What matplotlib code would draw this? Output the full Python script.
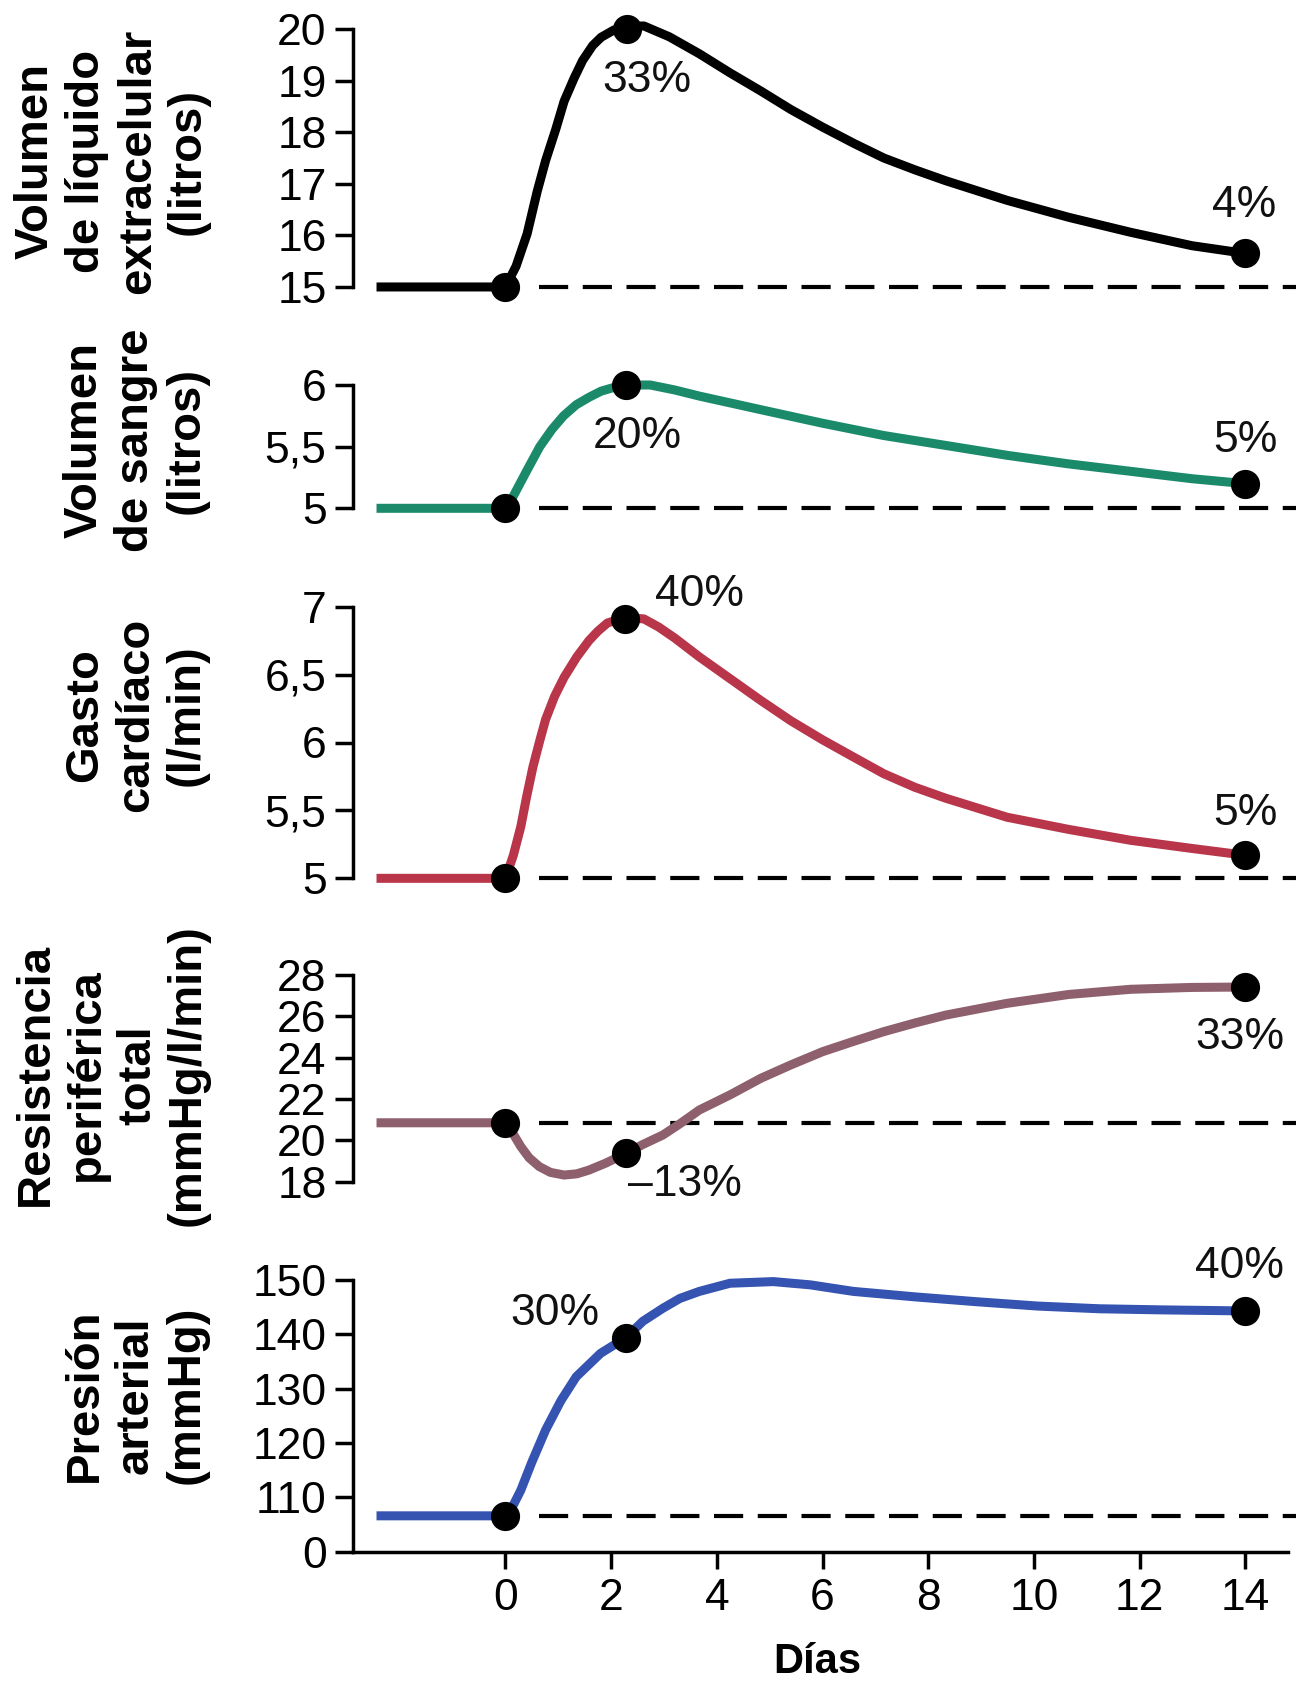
import matplotlib.pyplot as plt

plt.rcParams['font.family'] = ['Liberation Sans', 'DejaVu Sans']

# --- data (days, value) ---
ecf_days = [-2.44, 0, 0.2, 0.41, 0.6, 0.76, 0.95, 1.11, 1.3, 1.46, 1.65, 1.81, 2.05, 2.3, 2.62,
            3.1, 3.67, 4.25, 4.83, 5.4, 6.0, 6.6, 7.16, 7.75, 8.33, 9.49, 10.66, 11.83, 12.99, 14.0]
ecf_vals = [15, 15, 15.4, 16.03, 16.85, 17.45, 18.05, 18.6, 19.05, 19.39, 19.68, 19.84, 19.98, 20.05, 20.06,
            19.85, 19.52, 19.15, 18.8, 18.44, 18.1, 17.78, 17.5, 17.27, 17.06, 16.68, 16.35, 16.06, 15.8, 15.65]

blood_days = [-2.44, 0, 0.15, 0.41, 0.65, 0.88, 1.1, 1.34, 1.58, 1.81, 2.05, 2.28, 2.74,
              3.2, 3.67, 4.83, 6.0, 7.16, 8.33, 9.49, 10.66, 11.83, 12.99, 14.0]
blood_vals = [5, 5, 5.1, 5.31, 5.5, 5.64, 5.75, 5.84, 5.9, 5.95, 5.98, 6.0, 6.0,
              5.96, 5.91, 5.8, 5.69, 5.59, 5.51, 5.43, 5.36, 5.30, 5.24, 5.2]

co_days = [-2.44, 0, 0.15, 0.29, 0.4, 0.52, 0.64, 0.76, 0.93, 1.11, 1.35, 1.58, 1.75, 1.93, 2.26, 2.62,
           2.9, 3.2, 3.67, 4.25, 4.83, 5.4, 6.0, 6.6, 7.16, 7.75, 8.33, 9.49, 10.66, 11.83, 12.99, 14.0]
co_vals = [5, 5, 5.17, 5.38, 5.6, 5.82, 6.0, 6.17, 6.34, 6.48, 6.63, 6.75, 6.82, 6.88, 6.92, 6.91,
           6.85, 6.77, 6.63, 6.47, 6.31, 6.16, 6.02, 5.89, 5.77, 5.67, 5.59, 5.45, 5.36, 5.28, 5.22, 5.17]

tpr_days = [-2.44, 0, 0.15, 0.29, 0.45, 0.64, 0.85, 1.11, 1.35, 1.58, 1.9, 2.28, 2.6, 2.98, 3.3, 3.67,
            4.25, 4.83, 5.4, 6.0, 6.6, 7.16, 7.75, 8.33, 9.49, 10.66, 11.83, 12.99, 14.0]
tpr_vals = [20.85, 20.85, 20.3, 19.7, 19.15, 18.73, 18.45, 18.32, 18.38, 18.56, 18.9, 19.37, 19.8, 20.26, 20.8, 21.47,
            22.2, 23.0, 23.65, 24.29, 24.8, 25.26, 25.68, 26.06, 26.63, 27.06, 27.31, 27.4, 27.42]

bp_days = [-2.44, 0, 0.15, 0.29, 0.5, 0.76, 1.05, 1.34, 1.8, 2.28, 2.6, 2.98, 3.3, 3.67, 4.25,
           5.07, 5.77, 6.58, 7.74, 8.91, 10.07, 11.24, 12.4, 14.0]
bp_vals = [106.6, 106.6, 108.6, 111.3, 116.5, 122.4, 127.8, 132.2, 136.5, 139.4, 142.4, 144.8, 146.6, 147.9, 149.4,
           149.7, 149.1, 147.9, 146.9, 146.0, 145.2, 144.7, 144.5, 144.3]

# marked points and their percent labels
ecf_marks = [(0, 15), (2.3, 20.0), (14, 15.65)]
blood_marks = [(0, 5), (2.28, 6.0), (14, 5.2)]
co_marks = [(0, 5), (2.26, 6.91), (14, 5.17)]
tpr_marks = [(0, 20.85), (2.28, 19.37), (14, 27.42)]
bp_marks = [(0, 106.6), (2.28, 139.4), (14, 144.3)]

ecf_notes = [('33%', 2.68, 19.0), ('4%', 13.97, 16.58)]
blood_notes = [('20%', 2.5, 5.58), ('5%', 14.0, 5.55)]
co_notes = [('40%', 3.67, 7.09), ('5%', 14.0, 5.48)]
tpr_notes = [('–13%', 3.4, 17.84), ('33%', 13.9, 25.0)]
bp_notes = [('30%', 0.94, 143.9), ('40%', 13.9, 152.5)]

ecf_ticks = [15, 16, 17, 18, 19, 20]
blood_ticks = [5, 5.5, 6]
co_ticks = [5, 5.5, 6, 6.5, 7]
tpr_ticks = [18, 20, 22, 24, 26, 28]
bp_ticks = [100, 110, 120, 130, 140, 150]
bp_ticklabels = ['0', '110', '120', '130', '140', '150']
day_ticks = [0, 2, 4, 6, 8, 10, 12, 14]

ylabels = [['Volumen', 'de líquido', 'extracelular', '(litros)'],
           ['Volumen', 'de sangre', '(litros)'],
           ['Gasto', 'cardíaco', '(l/min)'],
           ['Resistencia', 'periférica', 'total', '(mmHg/l/min)'],
           ['Presión', 'arterial', '(mmHg)']]

colors = ['#000000', '#1b8a6b', '#b8354a', '#8e5f6c', '#3553b0']

W, H = 1296, 1686
fig = plt.figure(figsize=(W / 100, H / 100), dpi=100)

# panel boxes in pixels (top, bottom), y limits, label vertical centre
panels = [
    (ecf_days, ecf_vals, ecf_marks, ecf_notes, ecf_ticks, None, (14.6, 20.4), 8.4, 307.6, 161),
    (blood_days, blood_vals, blood_marks, blood_notes, blood_ticks, None, (4.85, 6.15), 366.5, 526.8, 440),
    (co_days, co_vals, co_marks, co_notes, co_ticks, None, (4.85, 7.15), 586.3, 898.7, 715),
    (tpr_days, tpr_vals, tpr_marks, tpr_notes, tpr_ticks, None, (17.2, 28.8), 958.5, 1198.2, 1075),
    (bp_days, bp_vals, bp_marks, bp_notes, bp_ticks, bp_ticklabels, (100, 152), 1269.1, 1551.7, 1395),
]

left_px = 353
xlim = (-2.885, 14.96)

for i, (dx, vy, marks, notes, yt, ytl, ylim, top, bot, laby) in enumerate(panels):
    ax = fig.add_axes([left_px / W, 1 - bot / H, (W - left_px) / W, (bot - top) / H])
    ax.set_xlim(*xlim)
    ax.set_ylim(*ylim)
    ax.plot(dx, vy, color=colors[i], lw=6.5, solid_joinstyle='round', solid_capstyle='butt',
            zorder=3, clip_on=False)
    base = vy[0]
    ax.plot([0.63, 14.96], [base, base], color='black', lw=3, dashes=(7, 3.5), zorder=2, clip_on=False)
    mx, my = zip(*marks)
    ax.plot(mx, my, 'o', color='black', ms=20, zorder=4, clip_on=False)
    for txt, tx, ty in notes:
        ax.text(tx, ty, txt, fontsize=32, ha='center', va='center', color='#111111')

    for s in ['top', 'right']:
        ax.spines[s].set_visible(False)
    ax.spines['left'].set_linewidth(2.5)
    ax.spines['left'].set_bounds(yt[0], yt[-1])
    ax.set_yticks(yt)
    if ytl is not None:
        ax.set_yticklabels(ytl)
    else:
        ax.set_yticklabels([('%g' % t).replace('.', ',') for t in yt])
    ax.tick_params(axis='y', direction='out', length=13, width=2.5, labelsize=32, pad=6)

    if i < 4:
        ax.spines['bottom'].set_visible(False)
        ax.set_xticks([])
    else:
        ax.spines['bottom'].set_linewidth(2.5)
        ax.spines['bottom'].set_bounds(xlim[0], 14.8)
        ax.set_xticks(day_ticks)
        ax.tick_params(axis='x', direction='out', length=12, width=2.5, labelsize=32, pad=7)
    ax.patch.set_visible(False)

    # y label: one rotated text per line, baselines at fixed pixel columns
    lines = ylabels[i]
    bases = [48, 99, 150, 200] if len(lines) == 4 else [97, 148, 199]
    for line, bx in zip(lines, bases):
        fig.text(bx / W, 1 - laby / H, line, rotation=90, rotation_mode='anchor',
                 ha='center', va='baseline', fontsize=34, fontweight='bold')

fig.text(817 / W, 1 - 1662 / H, 'Días', ha='center', va='center', fontsize=30, fontweight='bold')

fig.savefig('out.png', dpi=100)
